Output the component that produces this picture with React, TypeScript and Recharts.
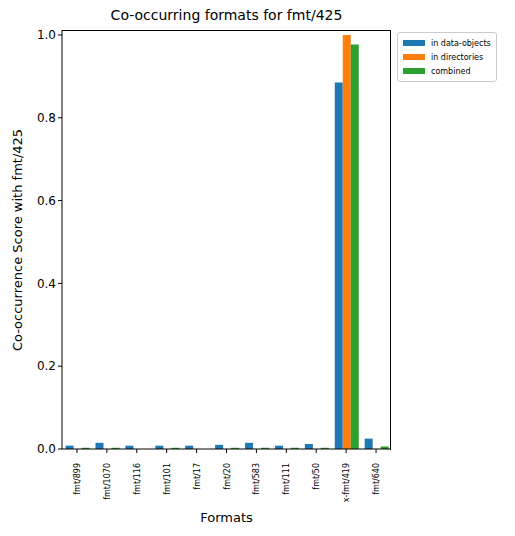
import { BarChart, Bar, XAxis, YAxis } from "recharts";

const formats = ["fmt/899", "fmt/1070", "fmt/116", "fmt/101", "fmt/17", "fmt/20", "fmt/583", "fmt/111", "fmt/50", "x-fmt/419", "fmt/640"];
const dataObjects = [0.008, 0.015, 0.008, 0.008, 0.008, 0.01, 0.015, 0.008, 0.012, 0.885, 0.025];
const directories = [0, 0, 0, 0, 0, 0, 0, 0, 0, 1.0, 0];
const combined = [0.003, 0.003, 0, 0.003, 0, 0.003, 0.003, 0.003, 0.003, 0.977, 0.006];
const yTicks = [0, 0.2, 0.4, 0.6, 0.8, 1.0];

const data = formats.map((f, i) => ({ f, a: dataObjects[i], b: directories[i], c: combined[i] }));

const FONT = "DejaVu Sans, sans-serif";

function RotTick({ x, y, payload }: any) {
  return (
    <text x={x + 3} y={y + 8} transform={`rotate(-90 ${x + 3} ${y + 8})`} textAnchor="end" fontSize={8} fill="#000" fontFamily={FONT}>
      {payload.value}
    </text>
  );
}

const legend = [
  { c: "#1f77b4", t: "in data-objects" },
  { c: "#ff7f0e", t: "in directories" },
  { c: "#2ca02c", t: "combined" },
];

export default function App() {
  return (
    <div style={{ position: "relative", width: 515, height: 536, margin: -8, fontFamily: FONT }}>
      <div style={{ position: "absolute", left: 62, width: 329, top: 7, textAlign: "center", fontSize: 14 }}>
        Co-occurring formats for fmt/425
      </div>
      <BarChart width={515} height={536} data={data} margin={{ top: 30, right: 124, bottom: 32, left: 0 }} barCategoryGap="12%" barGap={0}>
        <XAxis dataKey="f" tick={<RotTick />} interval={0} stroke="#000" tickSize={4} height={55} />
        <YAxis domain={[0, 1.012]} ticks={yTicks} tickFormatter={(v: number) => v.toFixed(1)} stroke="#000" tick={{ fontSize: 12, fill: "#000", fontFamily: FONT }} tickSize={4} width={62} />
        <Bar dataKey="a" fill="#1f77b4" isAnimationActive={false} />
        <Bar dataKey="b" fill="#ff7f0e" isAnimationActive={false} />
        <Bar dataKey="c" fill="#2ca02c" isAnimationActive={false} />
      </BarChart>
      <div style={{ position: "absolute", left: 62, top: 30, width: 329, height: 420, borderTop: "1px solid #000", borderRight: "1px solid #000", boxSizing: "border-box", pointerEvents: "none" }} />
      <div style={{ position: "absolute", left: 62, width: 329, top: 510, textAlign: "center", fontSize: 13 }}>Formats</div>
      <div style={{ position: "absolute", left: 17, top: 240, width: 0, height: 0 }}>
        <div style={{ position: "absolute", transform: "translate(-50%, -50%) rotate(-90deg)", whiteSpace: "nowrap", fontSize: 13 }}>
          Co-occurrence Score with fmt/425
        </div>
      </div>
      <div style={{ position: "absolute", left: 397, top: 32, border: "1px solid #ccc", borderRadius: 3, padding: "3px 5px", fontSize: 8, background: "#fff" }}>
        {legend.map((l) => (
          <div key={l.t} style={{ display: "flex", alignItems: "center", height: 14 }}>
            <span style={{ width: 22, height: 6, background: l.c, marginRight: 6 }} />
            {l.t}
          </div>
        ))}
      </div>
    </div>
  );
}
